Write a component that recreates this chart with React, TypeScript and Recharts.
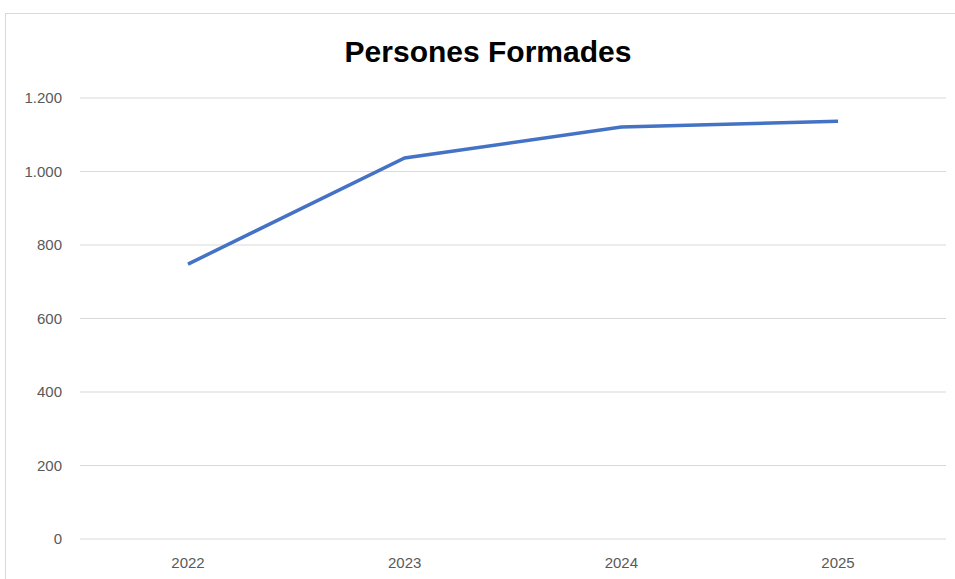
import { LineChart, Line, XAxis, YAxis, CartesianGrid } from "recharts";

const years = ["2022", "2023", "2024", "2025"];
const persones = [748, 1037, 1121, 1137];
const yTicks = [0, 200, 400, 600, 800, 1000, 1200];
const boundaryTicks = [0, 1, 2, 3, 4];

const data = years.map((y, i) => ({ year: y, value: persones[i], pos: i + 0.5 }));

const FONT = "'Liberation Sans', Arial, sans-serif";
const GRID = "#d9d9d9";
const LABEL = "#595959";

// 1200 -> "1.200"
const fmt = (v: number) => String(v).replace(/\B(?=(\d{3})+(?!\d))/g, ".");

export default function App() {
  return (
    <div
      style={{
        position: "absolute",
        left: 0,
        top: 0,
        width: 955,
        height: 579,
        overflow: "hidden",
        background: "#fff",
        fontFamily: FONT,
      }}
    >
      {/* chart frame */}
      <div
        style={{
          position: "absolute",
          left: 5,
          top: 13,
          width: 980,
          height: 600,
          border: "1px solid #d9d9d9",
        }}
      />
      <div
        style={{
          position: "absolute",
          left: 0,
          top: 35,
          width: 976,
          textAlign: "center",
          fontSize: 30,
          fontWeight: 700,
          color: "#000",
        }}
      >
        Persones Formades
      </div>
      <div style={{ position: "absolute", left: 0, top: 0 }}>
        <LineChart
          width={955}
          height={579}
          data={data}
          margin={{ top: 98, right: 9, bottom: 0, left: 0 }}
        >
          <CartesianGrid horizontal vertical={false} stroke={GRID} />
          <XAxis
            xAxisId="edge"
            type="number"
            dataKey="pos"
            domain={[0, 4]}
            ticks={boundaryTicks}
            tick={false}
            tickSize={6}
            stroke={GRID}
            height={0}
          />
          <XAxis
            dataKey="year"
            xAxisId="cat"
            axisLine={false}
            tickLine={false}
            tickMargin={12}
            height={40}
            padding={{ left: 108, right: 108 }}
            tick={{ fill: LABEL, fontSize: 15, fontFamily: FONT }}
          />
          <YAxis
            domain={[0, 1200]}
            ticks={yTicks}
            width={80}
            axisLine={false}
            tickLine={false}
            tickMargin={12}
            tickFormatter={fmt}
            tick={{ fill: LABEL, fontSize: 15, fontFamily: FONT }}
          />
          <Line
            xAxisId="cat"
            dataKey="value"
            stroke="#4472c4"
            strokeWidth={3.5}
            dot={false}
            isAnimationActive={false}
          />
        </LineChart>
      </div>
    </div>
  );
}
